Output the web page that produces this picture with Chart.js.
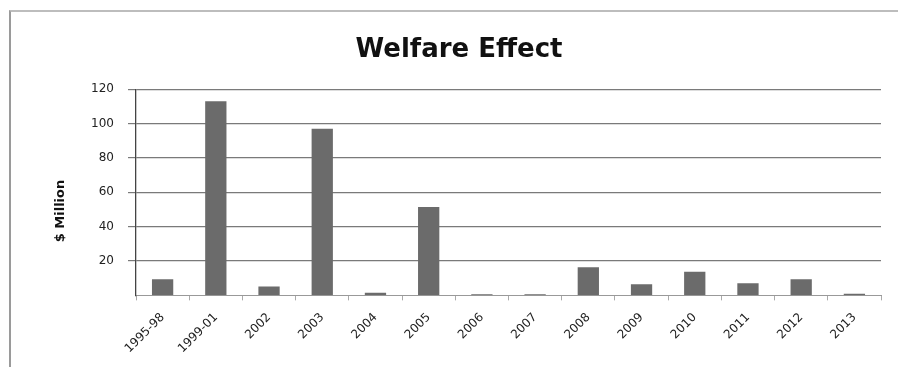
<!DOCTYPE html>
<html>
<head>
<meta charset="utf-8">
<script src="https://cdn.jsdelivr.net/npm/chart.js"></script>
<style>
  html, body { margin: 0; padding: 0; background: #fff; }
  .wrap { position: relative; width: 898px; height: 367px; }
  .frame { position: absolute; left: 9px; top: 10px; width: 889px; height: 357px; border-left: 2px solid #9a9a9a; border-top: 2px solid #bdbdbd; box-sizing: border-box; pointer-events: none; }
  canvas { position: absolute; left: 0; top: 0; }
</style>
</head>
<body>
<div class="wrap">
  <canvas id="chart" width="898" height="367"></canvas>
  <div class="frame"></div>
</div>
<script>
const categories = ["1995-98", "1999-01", "2002", "2003", "2004", "2005", "2006", "2007", "2008", "2009", "2010", "2011", "2012", "2013"]
const welfare = [9.4, 113, 5.2, 97, 1.5, 51.5, 0.6, 0.6, 16.3, 6.4, 13.8, 7, 9.4, 1]
const yTicks = [20, 40, 60, 80, 100, 120]
const yTitle = "$ Million"

// y axis title sits a bit below the middle of the plot in the original
const yTitlePlugin = {
    id: "yTitle",
    afterDraw: (chart) => {
        const c = chart.ctx
        c.save()
        c.translate(61, 211)
        c.rotate(-Math.PI / 2)
        c.font = "bold 13px 'DejaVu Sans'"
        c.fillStyle = "#111"
        c.textAlign = "center"
        c.textBaseline = "middle"
        c.fillText(yTitle, 0, 0)
        c.restore()
    }
}

const ctx = document.querySelector("#chart")

new Chart(ctx, {
    type: "bar",
    data: {
        labels: categories,
        datasets: [{
            label: "Welfare Effect",
            data: welfare,
            backgroundColor: "#6b6b6b",
            borderWidth: 0,
            categoryPercentage: 1,
            barPercentage: 0.4
        }]
    },
    options: {
        responsive: false,
        animation: false,
        layout: { padding: { left: 37, right: 17, top: 20, bottom: 1 } },
        plugins: {
            legend: { display: false },
            tooltip: { enabled: false },
            title: {
                display: true,
                text: "Welfare Effect",
                color: "#111",
                font: { family: "DejaVu Sans", size: 26, weight: "bold" },
                padding: { top: 15, bottom: 23 }
            }
        },
        scales: {
            x: {
                grid: { display: true, drawOnChartArea: false, offset: true, tickLength: 5, color: "#aaa" },
                border: { display: true, color: "#999", width: 1 },
                ticks: {
                    color: "#222",
                    font: { family: "DejaVu Sans", size: 12 },
                    maxRotation: 45,
                    minRotation: 45,
                    padding: 10
                }
            },
            y: {
                min: 0,
                max: 120,
                afterFit: (scale) => { scale.width = 99 },
                afterBuildTicks: (scale) => { scale.ticks = yTicks.map(v => ({ value: v })) },
                grid: { color: "#7a7a7a", lineWidth: 1.2, tickLength: 8 },
                border: { display: true, color: "#444", width: 1.3 },
                ticks: {
                    color: "#222",
                    font: { family: "DejaVu Sans", size: 12 },
                    padding: 14
                }
            }
        }
    },
    plugins: [yTitlePlugin]
})
</script>
</body>
</html>
